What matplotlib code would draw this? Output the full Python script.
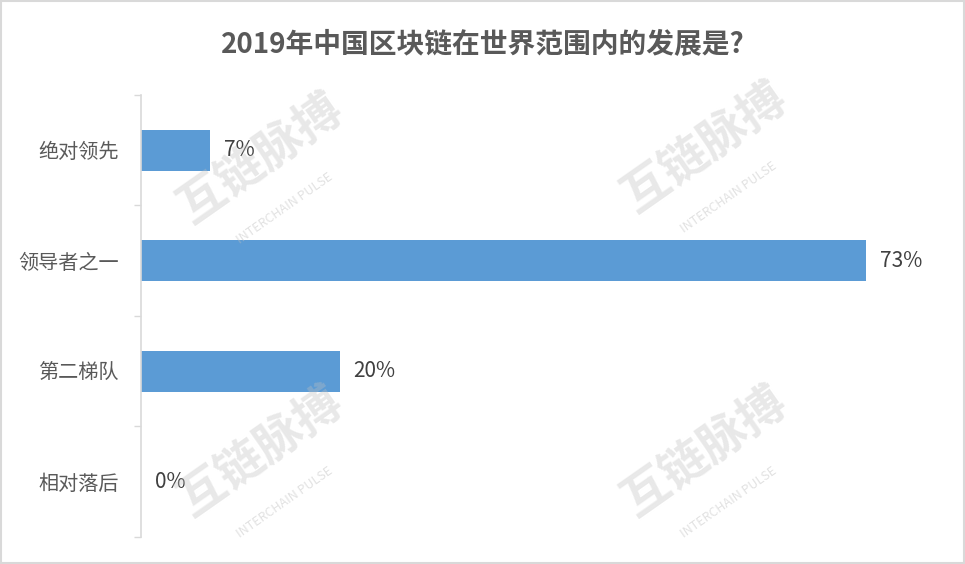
import matplotlib.pyplot as plt

plt.rcParams['font.family'] = ['Noto Sans CJK SC', 'DejaVu Sans']

categories = ['绝对领先', '领导者之一', '第二梯队', '相对落后']
values = [7, 73, 20, 0]
value_labels = ['7%', '73%', '20%', '0%']

fig = plt.figure(figsize=(9.65, 5.64), dpi=100)
ax = fig.add_axes([0.1461, 0.0479, 0.823, 0.7837])

pos = list(range(len(categories)))
ax.barh(pos, values, height=0.37, color='#5B9BD5')
ax.set_ylim(len(categories) - 0.5, -0.5)
ax.set_xlim(0, 80)

for p, v, lab in zip(pos, values, value_labels):
    ax.annotate(lab, (v, p), xytext=(10, 0), textcoords='offset points',
                va='center', ha='left', fontsize=15, color='#404040')

ax.set_yticks(pos)
ax.set_yticklabels(categories, fontsize=14.5, color='#595959')
ax.tick_params(axis='y', which='major', length=0, pad=16)
ax.set_yticks([i - 0.5 for i in range(len(categories) + 1)], minor=True)
ax.tick_params(axis='y', which='minor', length=5, color='#D9D9D9', width=1)
ax.set_xticks([])
for s in ['top', 'right', 'bottom']:
    ax.spines[s].set_visible(False)
ax.spines['left'].set_color('#D9D9D9')
ax.spines['left'].set_linewidth(1.2)

fig.text(0.5, 0.92, '2019年中国区块链在世界范围内的发展是?', ha='center', va='center',
         fontsize=20, fontweight='bold', color='#595959')

# faint watermarks
for x, y in [(0.27, 0.72), (0.73, 0.74), (0.27, 0.2), (0.73, 0.2)]:
    fig.text(x, y, '互链脉搏', rotation=35, fontsize=34, color='#BFBFBF', alpha=0.35,
             ha='center', va='center', fontweight='bold', zorder=5)
    fig.text(x + 0.025, y - 0.09, 'INTERCHAIN PULSE', rotation=35, fontsize=9, color='#BFBFBF',
             alpha=0.45, ha='center', va='center', zorder=5)

fig.add_artist(plt.Rectangle((0.001, 0.001), 0.998, 0.997, transform=fig.transFigure,
                             fill=False, edgecolor='#D9D9D9', linewidth=1.5))

fig.savefig('out.png', dpi=100)
